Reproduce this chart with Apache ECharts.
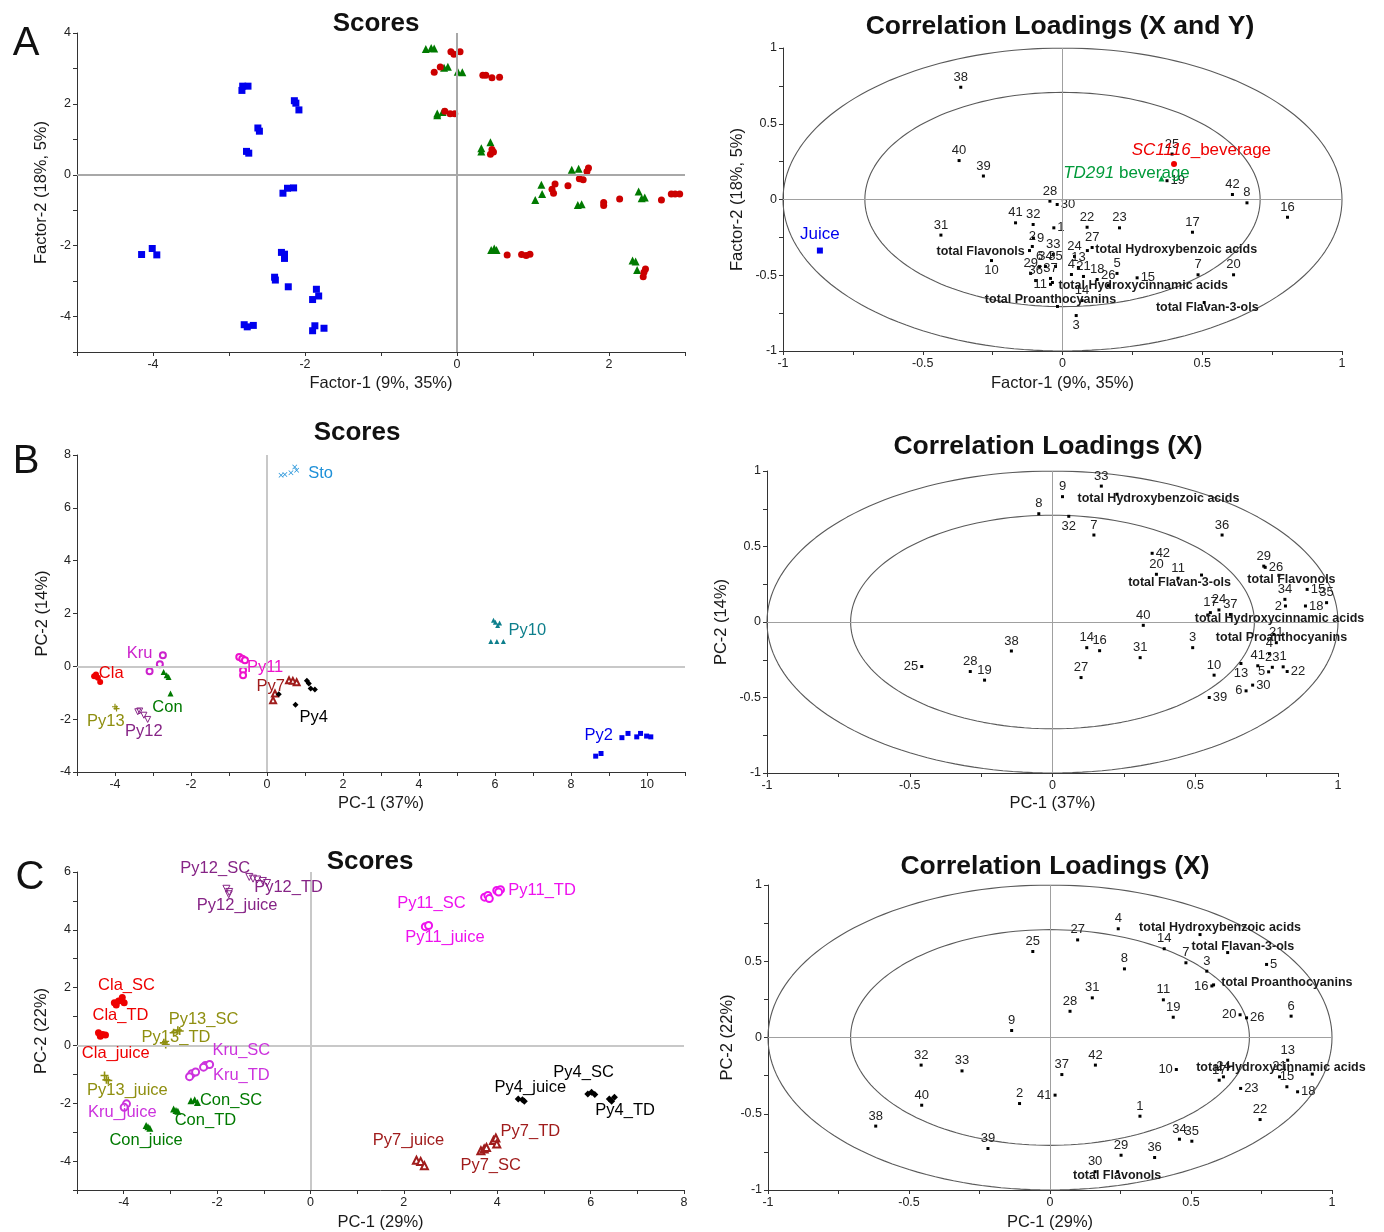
<!DOCTYPE html>
<html><head><meta charset="utf-8">
<script src="https://cdn.jsdelivr.net/npm/echarts@6/dist/echarts.min.js"></script>
<style>html,body{margin:0;padding:0;background:#fff}#c{width:1384px;height:1232px}</style>
</head><body><div id="c"></div>
<script>
const FONT = '"Liberation Sans", Arial, sans-serif';

// ---------- Panel A: scores ----------
const A_juice = [[-2.82,2.5],[-2.75,2.5],[-2.83,2.38],[-2.14,2.09],[-2.12,2.02],[-2.08,1.83],[-2.62,1.32],[-2.6,1.23],[-2.77,0.66],[-2.74,0.61],[-2.23,-0.38],[-2.15,-0.37],[-2.29,-0.52],[-4.15,-2.25],[-4.01,-2.08],[-3.95,-2.26],[-2.31,-2.19],[-2.27,-2.24],[-2.27,-2.36],[-2.4,-2.89],[-2.39,-2.97],[-2.22,-3.16],[-1.85,-3.23],[-1.82,-3.42],[-1.9,-3.52],[-2.8,-4.23],[-2.76,-4.29],[-2.68,-4.25],[-1.87,-4.26],[-1.9,-4.4],[-1.75,-4.33]];
const A_TD291 = [[-0.41,3.55],[-0.34,3.58],[-0.30,3.56],[-0.17,3.02],[-0.12,3.05],[0.01,2.91],[0.07,2.89],[-0.26,1.73],[-0.19,1.77],[-0.26,1.68],[0.32,0.75],[0.44,0.92],[0.32,0.66],[1.51,0.14],[1.6,0.17],[1.11,-0.28],[1.12,-0.54],[1.03,-0.71],[1.59,-0.85],[1.64,-0.83],[2.39,-0.47],[2.43,-0.66],[2.47,-0.64],[0.49,-2.08],[0.52,-2.12],[0.45,-2.12],[2.31,-2.42],[2.35,-2.45],[2.37,-2.69]];
const A_SC1116 = [[-0.08,3.47],[-0.04,3.4],[0.04,3.47],[-0.3,2.89],[-0.22,3.04],[0.34,2.81],[0.38,2.81],[0.46,2.74],[0.56,2.75],[-0.16,1.79],[-0.09,1.72],[-0.03,1.72],[0.46,0.71],[0.44,0.58],[0.48,0.64],[1.73,0.19],[1.71,0.09],[1.61,-0.11],[1.66,-0.14],[1.29,-0.26],[1.25,-0.41],[1.27,-0.52],[1.46,-0.31],[1.93,-0.78],[1.93,-0.87],[2.14,-0.68],[2.69,-0.71],[2.82,-0.54],[2.87,-0.54],[2.93,-0.54],[0.66,-2.26],[0.85,-2.25],[0.91,-2.28],[0.96,-2.24],[2.48,-2.66],[2.46,-2.75],[2.45,-2.88]];

// ---------- Panel A: loadings ----------
const A_load = [['38',-0.364,0.741],['40',-0.37,0.257],['39',-0.283,0.155],['28',-0.045,-0.011],['30',-0.019,-0.033],['41',-0.168,-0.154],['32',-0.105,-0.165],['1',-0.031,-0.187],['22',0.088,-0.183],['23',0.204,-0.187],['17',0.465,-0.216],['16',0.805,-0.117],['42',0.608,0.033],['8',0.66,-0.022],['19',0.374,0.124],['25',0.392,0.30],['31',-0.435,-0.235],['9',-0.104,-0.255],['2',-0.108,-0.31],['10',-0.254,-0.403],['33',-0.033,-0.363],['29',-0.114,-0.488],['6',-0.082,-0.442],['34',-0.061,-0.442],['35',-0.025,-0.442],['36',-0.096,-0.535],['37',-0.043,-0.521],['24',0.043,-0.376],['13',0.057,-0.449],['4',0.032,-0.495],['21',0.075,-0.508],['18',0.124,-0.528],['26',0.164,-0.568],['5',0.195,-0.488],['15',0.267,-0.517],['14',0.07,-0.667],['11',-0.043,-0.56],['27',0.106,-0.317],['3',0.049,-0.766],['7',0.485,-0.497],['20',0.612,-0.497]];
const A_totalDots = [['total Flavonols',-0.118,-0.337],['total Hydroxybenzoic acids',0.089,-0.337],['total Hydroxycinnamic acids',-0.036,-0.548],['total Proanthocyanins',-0.018,-0.706],['total Flavan-3-ols',0.507,-0.68]];
const A_totalText = [['total Flavonols',-0.293,-0.343],['total Hydroxybenzoic acids',0.407,-0.33],['total Hydroxycinnamic acids',0.289,-0.568],['total Proanthocyanins',-0.043,-0.66],['total Flavan-3-ols',0.518,-0.713]];
const A_yJuice = [[-0.868,-0.337]];
const A_ySC = [[0.399,0.235]];
const A_yTD = [[0.354,0.139]];
const A_yText = [['Juice',-0.868,-0.231],['SC1116',0.497,0.323],['TD291',0.229,0.172]];

// ---------- Panel B: scores ----------
const B_groups = {
  Sto:[[0.37,7.23],[0.47,7.26],[0.63,7.33],[0.73,7.55],[0.78,7.42]],
  Py10:[[6.01,1.67],[6.07,1.55],[5.96,1.74],[6.12,1.64],[5.89,0.94],[6.05,0.94],[6.22,0.94]],
  Py2:[[9.34,-2.7],[9.5,-2.54],[9.73,-2.67],[9.83,-2.54],[9.99,-2.64],[10.1,-2.67],[8.65,-3.4],[8.79,-3.3]],
  Kru:[[-2.74,0.42],[-2.82,0.08],[-3.09,-0.19]],
  Cla:[[-4.55,-0.38],[-4.45,-0.43],[-4.39,-0.59],[-4.5,-0.31]],
  Con:[[-2.72,-0.21],[-2.64,-0.34],[-2.59,-0.4],[-2.54,-1.03]],
  Py13:[[-4.0,-1.53],[-3.96,-1.6]],
  Py12:[[-3.4,-1.72],[-3.35,-1.69],[-3.24,-1.85],[-3.14,-2.01]],
  Py11:[[-0.73,0.35],[-0.65,0.29],[-0.58,0.23],[-0.63,-0.15],[-0.63,-0.34]],
  Py7:[[0.58,-0.53],[0.68,-0.55],[0.78,-0.6],[0.21,-1.03],[0.16,-1.28]],
  Py4:[[1.05,-0.55],[1.1,-0.65],[1.15,-0.84],[1.26,-0.88],[0.31,-1.06],[0.75,-1.45]]
};
const B_labels = [['Sto',1.41,7.31],['Py10',6.85,1.36],['Py2',8.73,-2.62],['Kru',-3.35,0.48],['Cla',-4.1,-0.28],['Con',-2.62,-1.57],['Py13',-4.24,-2.08],['Py12',-3.24,-2.48],['Py11',-0.05,-0.03],['Py7',0.1,-0.78],['Py4',1.23,-1.94]];

// ---------- Panel B: loadings ----------
const B_load = [['1',0.808,-0.297],['2',0.816,0.106],['3',0.491,-0.17],['4',0.76,-0.21],['5',0.757,-0.33],['6',0.678,-0.456],['7',0.145,0.576],['8',-0.048,0.717],['9',0.035,0.83],['10',0.566,-0.352],['11',0.44,0.29],['13',0.66,-0.275],['14',0.12,-0.17],['15',0.892,0.216],['16',0.165,-0.19],['17',0.553,0.062],['18',0.886,0.106],['19',-0.238,-0.385],['20',0.364,0.316],['21',0.784,-0.137],['22',0.822,-0.328],['23',0.77,-0.3],['24',0.583,0.08],['25',-0.458,-0.295],['26',0.745,0.362],['27',0.1,-0.368],['28',-0.288,-0.328],['29',0.74,0.37],['30',0.701,-0.418],['31',0.307,-0.236],['32',0.057,0.70],['33',0.171,0.9],['34',0.814,0.15],['35',0.96,0.128],['36',0.594,0.576],['37',0.623,0.05],['38',-0.144,-0.192],['39',0.549,-0.5],['40',0.318,-0.022],['41',0.719,-0.29],['42',0.349,0.455]];
const B_totalDots = [['total Hydroxybenzoic acids',0.226,0.846],['total Flavan-3-ols',0.522,0.311],['total Flavonols',0.793,0.309],['total Hydroxycinnamic acids',0.544,0.046],['total Proanthocyanins',0.775,-0.082]];
const B_totalText = [['total Hydroxybenzoic acids',0.371,0.815],['total Flavan-3-ols',0.445,0.258],['total Flavonols',0.837,0.278],['total Hydroxycinnamic acids',0.795,0.02],['total Proanthocyanins',0.802,-0.1]];

// ---------- Panel C: scores ----------
const C_groups = {
  Py12_SC:[[-1.31,5.83],[-1.23,5.77],[-1.14,5.74]],
  Py12_TD:[[-1.02,5.69],[-0.93,5.62]],
  Py12_juice:[[-1.8,5.42],[-1.74,5.31],[-1.75,5.23]],
  Py11_SC:[[3.73,5.13],[3.8,5.19],[3.83,5.08]],
  Py11_TD:[[3.99,5.36],[4.07,5.39],[4.03,5.31]],
  Py11_juice:[[2.46,4.11],[2.53,4.15]],
  Cla_SC:[[-4.2,1.48],[-4.11,1.54],[-4.03,1.66],[-4.16,1.4],[-3.99,1.48]],
  Cla_TD:[[-4.54,0.44],[-4.45,0.38],[-4.39,0.36],[-4.5,0.32]],
  Py13_SC:[[-2.93,0.44],[-2.84,0.53],[-2.8,0.5]],
  Py13_TD:[[-3.14,0.09],[-3.1,0.03]],
  Kru_SC:[[-2.25,-0.69],[-2.16,-0.66],[-2.29,-0.75]],
  Kru_TD:[[-2.54,-0.98],[-2.46,-0.92],[-2.59,-1.08]],
  Kru_juice:[[-3.94,-2.02],[-3.99,-2.14]],
  Py13_juice:[[-4.41,-1.04],[-4.37,-1.19],[-4.33,-1.21]],
  Con_SC:[[-2.56,-1.91],[-2.48,-1.88],[-2.42,-1.97]],
  Con_TD:[[-2.93,-2.2],[-2.88,-2.25],[-2.84,-2.28]],
  Con_juice:[[-3.52,-2.77],[-3.48,-2.81],[-3.44,-2.86]],
  Py4_SC:[[5.94,-1.68],[6.02,-1.62],[6.09,-1.7]],
  Py4_TD:[[6.4,-1.85],[6.45,-1.93],[6.51,-1.79]],
  Py4_juice:[[4.45,-1.85],[4.54,-1.88],[4.58,-1.93]],
  Py7_TD:[[3.92,-3.29],[3.97,-3.2],[3.99,-3.41]],
  Py7_SC:[[3.65,-3.64],[3.72,-3.58],[3.77,-3.53]],
  Py7_juice:[[2.27,-3.97],[2.36,-4.01],[2.44,-4.16]]
};
const C_labels = [['Py12_SC',-2.04,6.12],['Py12_TD',-0.47,5.48],['Py12_juice',-1.57,4.84],['Py11_SC',2.59,4.9],['Py11_TD',4.96,5.37],['Py11_juice',2.88,3.72],['Cla_SC',-3.94,2.09],['Cla_TD',-4.07,1.05],['Py13_SC',-2.29,0.9],['Py13_TD',-2.88,0.27],['Cla_juice',-4.17,-0.29],['Kru_SC',-1.48,-0.17],['Kru_TD',-1.48,-1.04],['Py13_juice',-3.92,-1.56],['Kru_juice',-4.03,-2.31],['Con_SC',-1.7,-1.91],['Con_TD',-2.25,-2.6],['Con_juice',-3.52,-3.27],['Py4_SC',5.85,-0.95],['Py4_juice',4.71,-1.45],['Py4_TD',6.74,-2.25],['Py7_TD',4.71,-2.97],['Py7_juice',2.1,-3.29],['Py7_SC',3.86,-4.16]];

// ---------- Panel C: loadings ----------
const C_load = [['4',0.242,0.713],['14',0.405,0.582],['27',0.098,0.64],['25',-0.061,0.564],['8',0.264,0.45],['7',0.482,0.49],['3',0.556,0.435],['5',0.768,0.479],['16',0.574,0.338],['31',0.15,0.26],['28',0.071,0.172],['11',0.402,0.247],['19',0.437,0.133],['20',0.674,0.149],['26',0.697,0.129],['6',0.855,0.14],['9',-0.136,0.046],['32',-0.457,-0.181],['33',-0.312,-0.219],['40',-0.455,-0.444],['38',-0.618,-0.581],['2',-0.108,-0.433],['41',0.018,-0.378],['37',0.042,-0.243],['42',0.161,-0.181],['39',-0.22,-0.728],['1',0.319,-0.516],['29',0.252,-0.772],['36',0.371,-0.787],['30',0.16,-0.88],['34',0.459,-0.667],['35',0.503,-0.68],['22',0.745,-0.538],['10',0.448,-0.21],['13',0.843,-0.149],['21',0.814,-0.258],['15',0.84,-0.323],['24',0.615,-0.258],['17',0.6,-0.28],['23',0.676,-0.334],['18',0.878,-0.356]];
const C_totalDots = [['total Hydroxybenzoic acids',0.532,0.675],['total Flavan-3-ols',0.63,0.557],['total Proanthocyanins',0.58,0.345],['total Hydroxycinnamic acids',0.93,-0.24],['total Flavonols',0.24,-0.88]];
const C_totalText = [['total Hydroxybenzoic acids',0.603,0.721],['total Flavan-3-ols',0.684,0.597],['total Proanthocyanins',0.84,0.36],['total Hydroxycinnamic acids',0.819,-0.197],['total Flavonols',0.238,-0.905]];

// ---------- styles ----------
const B_colors = {Sto:'#1e90d8',Py10:'#0e7f8c',Py2:'#0000ee',Kru:'#cc22cc',Cla:'#ee0000',Con:'#007a00',Py13:'#8f8f10',Py12:'#862486',Py11:'#ee11cc',Py7:'#a01c1c',Py4:'#000000'};
const C_colors = {Py12:'#862486',Py11:'#ee11ee',Cla:'#ee0000',Py13:'#8f8f10',Kru:'#cc33dd',Con:'#007a00',Py4:'#000000',Py7:'#a01c1c'};
const PLUS = 'path://M4,0H6V4H10V6H6V10H4V6H0V4H4Z';
const CROSS = 'path://M0,1L1,0L5,4L9,0L10,1L6,5L10,9L9,10L5,6L1,10L0,9L4,5Z';
const DOWNTRI = 'path://M0,0L10,0L5,9Z';
const B_sym = {Sto:[CROSS,5,'fill'],Py10:['triangle',5,'fill'],Py2:['rect',5,'fill'],Kru:['emptyCircle',6,'empty'],Cla:['circle',6,'fill'],Con:['triangle',6,'fill'],Py13:[PLUS,6,'fill'],Py12:[DOWNTRI,6,'outline'],Py11:['emptyCircle',6,'empty'],Py7:['emptyTriangle',6,'empty'],Py4:['diamond',6,'fill']};
const C_sym = {Py12:[DOWNTRI,7,'outline'],Py11:['emptyCircle',7,'empty'],Cla:['circle',7,'fill'],Py13:[PLUS,8,'fill'],Kru:['emptyCircle',7,'empty'],Con:['triangle',7,'fill'],Py4:['diamond',7,'fill'],Py7:['emptyTriangle',7,'empty']};
const posA = {'30':'right','1':'right','9':'right','19':'right','15':'right','10':'bottom','3':'bottom','11':'left'};
const posB = {'42':'right','22':'right','30':'right','26':'right','15':'right','18':'right','39':'right','25':'left','2':'left','5':'left','6':'left','32':'bottom','13':'bottom'};
const posC = {'5':'right','26':'right','18':'right','23':'right','41':'left','10':'left','20':'left','16':'left'};

const grids = [
  {left:77, top:33, width:608, height:319},
  {left:783, top:48, width:559, height:303},
  {left:77, top:455, width:608, height:317},
  {left:767, top:471, width:571, height:302},
  {left:77, top:872, width:607, height:318},
  {left:768, top:885, width:564, height:305}
];

function fmtEven(v){ const r=Math.round(v); return (Math.abs(v-r)<1e-6 && r%2===0) ? String(r) : ''; }
function fmtLoad(v){ const r=Math.round(v*2); return Math.abs(v*2-r)>1e-6 ? '' : String(r/2); }
function axis(gi, min, max, interval, fmt, name, gap){
  return {gridIndex:gi, type:'value', min:min, max:max, interval:interval, name:name,
    nameLocation:'middle', nameGap:gap,
    nameTextStyle:{fontFamily:FONT, fontSize:16.5, color:'#1a1a1a'},
    axisLine:{show:true, onZero:false, lineStyle:{color:'#333', width:1}},
    axisTick:{show:true, length:4, lineStyle:{color:'#333'}},
    axisLabel:{formatter:fmt, fontFamily:FONT, fontSize:12.5, color:'#222', margin:6},
    splitLine:{show:false}};
}
const xAxes = [
  axis(0,-5,3,1,fmtEven,'Factor-1 (9%, 35%)',23),
  axis(1,-1,1,0.25,fmtLoad,'Factor-1 (9%, 35%)',24),
  axis(2,-5,11,1,fmtEven,'PC-1 (37%)',23),
  axis(3,-1,1,0.25,fmtLoad,'PC-1 (37%)',22),
  axis(4,-5,8,1,fmtEven,'PC-1 (29%)',24),
  axis(5,-1,1,0.25,fmtLoad,'PC-1 (29%)',24)
];
const yAxes = [
  axis(0,-5,4,1,fmtEven,'Factor-2 (18%, 5%)',27),
  axis(1,-1,1,0.25,fmtLoad,'Factor-2 (18%, 5%)',37),
  axis(2,-4,8,2,fmtEven,'PC-2 (14%)',26),
  axis(3,-1,1,0.25,fmtLoad,'PC-2 (14%)',37),
  axis(4,-5,6,1,fmtEven,'PC-2 (22%)',27),
  axis(5,-1,1,0.25,fmtLoad,'PC-2 (22%)',32)
];

function crossLines(gi, width, color){
  return {type:'scatter', xAxisIndex:gi, yAxisIndex:gi, data:[], silent:true, z:1,
    markLine:{silent:true, symbol:'none', label:{show:false}, animation:false,
      lineStyle:{color:color, width:width, type:'solid', opacity:1}, data:[{xAxis:0},{yAxis:0}]}};
}
function ring(r){ const pts=[]; for(let i=0;i<=360;i+=2){ const t=i*Math.PI/180; pts.push([r*Math.cos(t), r*Math.sin(t)]); } return pts; }
function ringSeries(gi, r){
  return {type:'line', xAxisIndex:gi, yAxisIndex:gi, data:ring(r), showSymbol:false, symbol:'none', silent:true, z:1,
    lineStyle:{color:'#5a5a5a', width:1.1}};
}
function scat(gi, data, color, symbol, size, mode){
  const st = mode==='fill' ? {color:color, opacity:1} :
             mode==='empty' ? {color:color, borderColor:color, borderWidth:1, opacity:1} :
             {color:'rgba(0,0,0,0)', borderColor:color, borderWidth:1, opacity:1};
  return {type:'scatter', xAxisIndex:gi, yAxisIndex:gi, data:data, symbol:symbol, symbolSize:size, itemStyle:st, silent:true, clip:false, z:3};
}
function textSeries(gi, items, colorFn, fontSize, fontWeight, extra){
  return {type:'scatter', xAxisIndex:gi, yAxisIndex:gi, symbolSize:1, silent:true, clip:false, z:6,
    itemStyle:{color:'rgba(0,0,0,0)', opacity:1},
    data: items.map(a=>({name:a[0], value:[a[1],a[2]], label:{color:colorFn(a[0])}})),
    label:Object.assign({show:true, position:'inside', formatter:'{b}', fontFamily:FONT, fontSize:fontSize, fontWeight:fontWeight, opacity:1}, extra||{})};
}
function loadSeries(gi, pts, posMap, showLabel){
  return {type:'scatter', xAxisIndex:gi, yAxisIndex:gi, symbol:'rect', symbolSize:3, clip:false, silent:true, z:4,
    itemStyle:{color:'#000', opacity:1},
    data: pts.map(p=>({name:p[0], value:[p[1],p[2]], label:{position:(posMap&&posMap[p[0]])||'top'}})),
    label:{show:showLabel, formatter:'{b}', fontFamily:FONT, fontSize:13, color:'#222', distance:2}};
}

const series = [];
// Panel A
series.push(crossLines(0,2,'#a8a8a8'));
series.push(scat(0,A_juice,'#0000ee','rect',7,'fill'));
series.push(scat(0,A_TD291,'#007a00','triangle',8,'fill'));
series.push(scat(0,A_SC1116,'#cc0000','circle',7,'fill'));
series.push(crossLines(1,1,'#a0a0a0'));
series.push(ringSeries(1,1)); series.push(ringSeries(1,Math.SQRT1_2));
series.push(loadSeries(1,A_load,posA,true));
series.push(loadSeries(1,A_totalDots,null,false));
series.push(textSeries(1,A_totalText,()=>'#1a1a1a',12.5,'bold'));
series.push(scat(1,A_yJuice,'#0000ee','rect',6,'fill'));
series.push(scat(1,A_ySC,'#ee0000','circle',6,'fill'));
series.push(scat(1,A_yTD,'#00a040','triangle',6,'fill'));
series.push({type:'scatter', xAxisIndex:1, yAxisIndex:1, symbolSize:1, silent:true, clip:false, z:6,
  itemStyle:{color:'rgba(0,0,0,0)', opacity:1},
  data: A_yText.map(a=>({name:a[0], value:[a[1],a[2]]})),
  label:{show:true, position:'inside', fontFamily:FONT, fontSize:17, opacity:1,
    formatter: p => p.name==='Juice' ? '{j|Juice}' : p.name==='SC1116' ? '{ri|SC1116}{r|_beverage}' : '{gi|TD291}{g| beverage}',
    rich:{j:{color:'#0000ee',fontSize:17,fontFamily:FONT}, ri:{color:'#ee0000',fontSize:17,fontStyle:'italic',fontFamily:FONT}, r:{color:'#ee0000',fontSize:17,fontFamily:FONT},
          gi:{color:'#009a3a',fontSize:17,fontStyle:'italic',fontFamily:FONT}, g:{color:'#009a3a',fontSize:17,fontFamily:FONT}}}});

// Panel B
series.push(crossLines(2,2,'#c8c8c8'));
Object.keys(B_groups).forEach(k=>{ const s=B_sym[k]; series.push(scat(2,B_groups[k],B_colors[k],s[0],s[1],s[2])); });
series.push(textSeries(2,B_labels,n=>B_colors[n],16.5,'normal'));
series.push(crossLines(3,1,'#a0a0a0'));
series.push(ringSeries(3,1)); series.push(ringSeries(3,Math.SQRT1_2));
series.push(loadSeries(3,B_load,posB,true));
series.push(loadSeries(3,B_totalDots,null,false));
series.push(textSeries(3,B_totalText,()=>'#1a1a1a',12.5,'bold'));

// Panel C
series.push(crossLines(4,2,'#c8c8c8'));
Object.keys(C_groups).forEach(k=>{ const g=k.split('_')[0]; const s=C_sym[g]; series.push(scat(4,C_groups[k],C_colors[g],s[0],s[1],s[2])); });
series.push(textSeries(4,C_labels,n=>C_colors[n.split('_')[0]],16.5,'normal'));
series.push(crossLines(5,1,'#a0a0a0'));
series.push(ringSeries(5,1)); series.push(ringSeries(5,Math.SQRT1_2));
series.push(loadSeries(5,C_load,posC,true));
series.push(loadSeries(5,C_totalDots,null,false));
series.push(textSeries(5,C_totalText,()=>'#1a1a1a',12.5,'bold'));

function gtext(x,y,text,size,weight){
  return {type:'text', x:x, y:y, silent:true, z:10,
    style:{text:text, fill:'#111', fontSize:size, fontWeight:weight, fontFamily:FONT, align:'center', verticalAlign:'middle', textAlign:'center', textVerticalAlign:'middle'}};
}
const graphic = [
  gtext(26,44,'A',40,'normal'), gtext(26,462,'B',40,'normal'), gtext(30,878,'C',40,'normal'),
  gtext(376,24,'Scores',26,'bold'), gtext(1060,27,'Correlation Loadings (X and Y)',26.5,'bold'),
  gtext(357,433,'Scores',26,'bold'), gtext(1048,447,'Correlation Loadings (X)',26.5,'bold'),
  gtext(370,862,'Scores',26,'bold'), gtext(1055,867,'Correlation Loadings (X)',26.5,'bold')
];

const chart = echarts.init(document.getElementById('c'));
chart.setOption({animation:false, backgroundColor:'#fff', grid:grids, xAxis:xAxes, yAxis:yAxes, series:series, graphic:graphic});
</script></body></html>
